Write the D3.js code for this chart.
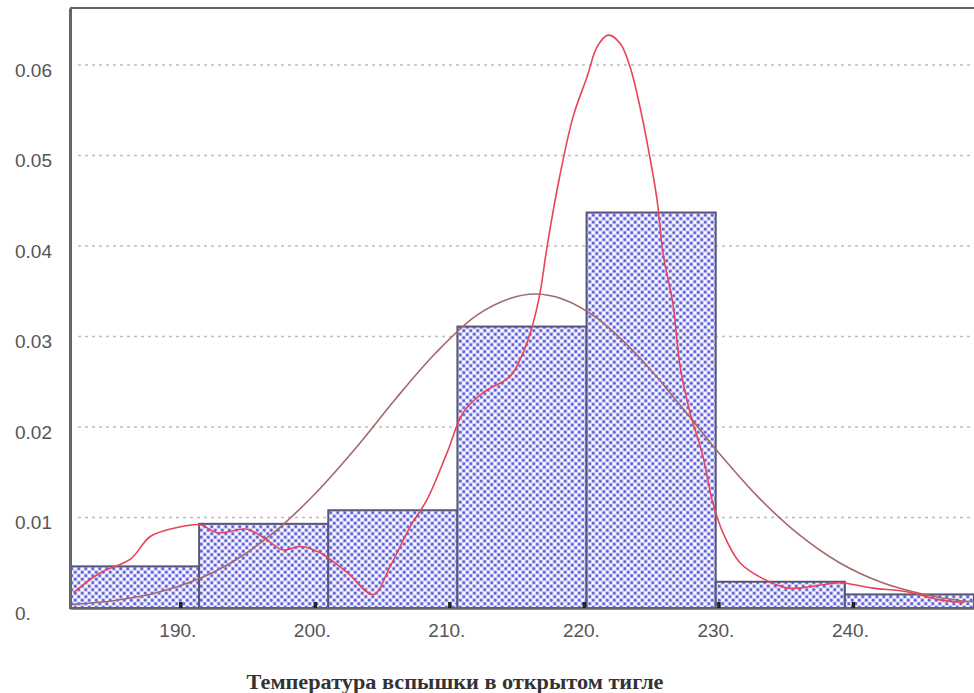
<!DOCTYPE html>
<html>
<head>
<meta charset="utf-8">
<script src="https://cdn.jsdelivr.net/npm/d3@7"></script>
<style>
  html, body { margin: 0; padding: 0; background: #fff; }
  svg { display: block; }
</style>
</head>
<body>
<svg id="chart" width="974" height="693"></svg>
<script>
// Histogram bins (flash point, °C) and their densities
const binEdges = [181.8, 191.4, 201.0, 210.6, 220.2, 229.8, 239.4, 249.0];
const binDensity = [0.0046, 0.0093, 0.0108, 0.0311, 0.0437, 0.0029, 0.0015];

// Kernel density estimate (red)
const kdeX = [182.05, 184.06, 186.29, 187.77, 189.78, 191.49, 192.75, 194.98, 196.46, 197.65,
              198.92, 200.40, 202.41, 204.34, 205.60, 207.09, 208.35, 209.84, 211.03, 212.51,
              214.52, 215.48, 216.23, 216.75, 217.27, 218.23, 219.20, 220.24, 220.98, 221.80,
              222.69, 223.43, 224.18, 224.77, 225.44, 225.88, 226.63, 227.15, 227.89, 228.86,
              229.52, 230.34, 231.60, 233.24, 235.17, 237.03, 239.03, 240.00, 241.49, 244.01,
              246.46, 248.30];
const kdeY = [0.0017, 0.0039, 0.0054, 0.0079, 0.0089, 0.0092, 0.0083, 0.0087, 0.0075, 0.0064,
              0.0068, 0.0061, 0.0039, 0.0015, 0.0046, 0.0090, 0.0120, 0.0172, 0.0216, 0.0238,
              0.0256, 0.0282, 0.0315, 0.0349, 0.0400, 0.0479, 0.0543, 0.0587, 0.0620, 0.0633,
              0.0624, 0.0598, 0.0553, 0.0509, 0.0451, 0.0392, 0.0335, 0.0267, 0.0216, 0.0167,
              0.0120, 0.0083, 0.0050, 0.0033, 0.0022, 0.0024, 0.0028, 0.0026, 0.0022, 0.0018,
              0.0009, 0.0006];

// Fitted normal density (brown)
const normX = [182, 185, 188, 191, 194, 197, 200, 203, 206, 209, 212, 214.5, 216.4,
               218.5, 221, 224, 227, 230, 233, 236, 239, 242, 245, 248, 249];
const normY = [0.0004, 0.0008, 0.0016, 0.0030, 0.0052, 0.0084, 0.0126, 0.0176, 0.0231, 0.0282, 0.0323, 0.0342, 0.0347,
               0.0341, 0.0320, 0.0279, 0.0227, 0.0172, 0.0122, 0.0081, 0.0050, 0.0029, 0.0016, 0.0008, 0.0007];

// Axis ticks and labels
const xTicks = [190, 200, 210, 220, 230, 240];
const xTickLabels = ["190.", "200.", "210.", "220.", "230.", "240."];
const yTicks = [0, 0.01, 0.02, 0.03, 0.04, 0.05, 0.06];
const yTickLabels = ["0.", "0.01", "0.02", "0.03", "0.04", "0.05", "0.06"];
const xTitle = "Температура вспышки в открытом тигле";

const svg = d3.select("#chart");
const plotLeft = 70, plotRight = 974, plotTop = 8, plotBottom = 608;

const x = d3.scaleLinear().domain([binEdges[0], binEdges[binEdges.length - 1]]).range([plotLeft, plotRight]);
const y = d3.scaleLinear().domain([0, 0.0663]).range([plotBottom, plotTop]);

// Checkered dot fill for the bars
const defs = svg.append("defs");
const pat = defs.append("pattern")
  .attr("id", "dots").attr("patternUnits", "userSpaceOnUse")
  .attr("width", 7).attr("height", 7);
pat.append("rect").attr("width", 7).attr("height", 7).attr("fill", "#d2d2f6");
[[1.75, 1.75], [5.25, 5.25]].forEach(([cx, cy]) =>
  pat.append("circle").attr("cx", cx).attr("cy", cy).attr("r", 1.4).attr("fill", "#6262dc"));
[[5.25, 1.75], [1.75, 5.25]].forEach(([cx, cy]) =>
  pat.append("circle").attr("cx", cx).attr("cy", cy).attr("r", 1.4).attr("fill", "#ffffff"));

// Horizontal dotted grid
svg.append("g")
  .selectAll("line")
  .data(yTicks.filter(d => d > 0))
  .join("line")
  .attr("x1", plotLeft + 8).attr("x2", plotRight)
  .attr("y1", d => y(d)).attr("y2", d => y(d))
  .attr("stroke", "#bdbdbd").attr("stroke-width", 1.5)
  .attr("stroke-dasharray", "3,4");

// Histogram bars
const bins = binDensity.map((d, i) => ({ x0: binEdges[i], x1: binEdges[i + 1], d }));
svg.append("g")
  .selectAll("rect")
  .data(bins)
  .join("rect")
  .attr("x", b => x(b.x0))
  .attr("y", b => y(b.d))
  .attr("width", b => x(b.x1) - x(b.x0))
  .attr("height", b => y(0) - y(b.d))
  .attr("fill", "url(#dots)")
  .attr("stroke", "#56567a").attr("stroke-width", 2);

// Curves
const normLine = d3.line().x((d, i) => x(normX[i])).y(d => y(d)).curve(d3.curveCatmullRom.alpha(0.5));
svg.append("path").datum(normY)
  .attr("d", normLine)
  .attr("fill", "none").attr("stroke", "#a06a6a").attr("stroke-width", 1.6);

const kdeLine = d3.line().x((d, i) => x(kdeX[i])).y(d => y(d)).curve(d3.curveCatmullRom.alpha(0.5));
svg.append("path").datum(kdeY)
  .attr("d", kdeLine)
  .attr("fill", "none").attr("stroke", "#ea4358").attr("stroke-width", 1.6);

// Frame: top border and axes
svg.append("line").attr("x1", plotLeft).attr("x2", plotRight).attr("y1", plotTop).attr("y2", plotTop)
  .attr("stroke", "#666").attr("stroke-width", 2);

const xAxis = svg.append("g").attr("transform", `translate(0,${plotBottom})`)
  .call(d3.axisBottom(x).tickValues(xTicks)
    .tickFormat((d, i) => xTickLabels[i]).tickSizeInner(-6).tickSizeOuter(0).tickPadding(16));
xAxis.select(".domain").attr("stroke", "#666").attr("stroke-width", 2.5);
xAxis.selectAll(".tick line").attr("stroke", "#222").attr("stroke-width", 3.5);
xAxis.selectAll(".tick text")
  .attr("fill", "#555").attr("font-family", "Liberation Sans, Arial, sans-serif")
  .attr("font-size", 19).attr("dx", -3);

const yAxis = svg.append("g").attr("transform", `translate(${plotLeft},0)`)
  .call(d3.axisLeft(y).tickValues(yTicks)
    .tickFormat((d, i) => yTickLabels[i]).tickSize(0).tickSizeOuter(0));
yAxis.select(".domain").attr("stroke", "#666").attr("stroke-width", 3);
yAxis.selectAll(".tick text")
  .attr("x", 15 - plotLeft).attr("dy", "0.95em").attr("y", -7)
  .attr("text-anchor", "start")
  .attr("fill", "#555").attr("font-family", "Liberation Sans, Arial, sans-serif")
  .attr("font-size", 19);

// Axis title
svg.append("text")
  .attr("x", 455).attr("y", 689)
  .attr("text-anchor", "middle")
  .attr("font-family", "Liberation Serif, Times New Roman, serif")
  .attr("font-weight", "bold").attr("font-size", 20)
  .attr("fill", "#333")
  .attr("textLength", 417).attr("lengthAdjust", "spacingAndGlyphs")
  .text(xTitle);
</script>
</body>
</html>
